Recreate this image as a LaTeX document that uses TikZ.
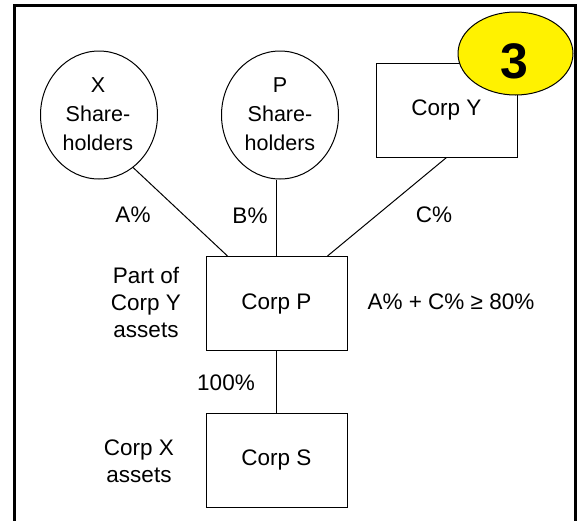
\documentclass[tikz,border=0pt]{standalone}
\usepackage{fontspec}
\setmainfont{Liberation Sans}
\usetikzlibrary{shapes.geometric,calc}
\begin{document}
\begin{tikzpicture}[x=1pt,y=-1pt,
  txt/.style={font=\fontsize{22.5}{27}\selectfont, align=center, inner sep=0pt},
  corp/.style={draw, line width=1pt, minimum width=141pt, minimum height=94pt, inner sep=0pt, font=\fontsize{22.5}{27}\selectfont},
  holder/.style={draw, ellipse, line width=1pt, minimum width=117pt, minimum height=128pt, inner sep=0pt},
  holdertxt/.style={font=\fontsize{21.5}{29}\selectfont, align=center, inner sep=0pt},
  link/.style={line width=1pt}]
\useasboundingbox (0,0) rectangle (586,520);
\draw[line width=3pt] (14,521) -- (14,5) -- (575,5) -- (575,521);
\node[holder] (X) at (99,115) {};
\node[holdertxt] (Xt) at (98,114) {X\\Share-\\holders};
\node[holder] (PS) at (280,115) {};
\node[holdertxt] (Pt) at (280,114) {P\\Share-\\holders};
\node[corp] (CY) at (446.5,110) {Corp Y};
\node[draw, ellipse, line width=1pt, fill=yellow, minimum width=115pt, minimum height=83pt, inner sep=0pt] (three) at (515.5,53.5) {};
\node[font=\fontsize{50}{50}\selectfont\bfseries, inner sep=0pt] (threet) at (514,61) {3};
\node[corp] (CP) at (276.5,303.5) {Corp P};
\node[corp] (CS) at (276.5,460) {Corp S};
\coordinate (pa) at ($(CP.north west)+(22,0)$);
\coordinate (pc) at ($(CP.north east)+(-20,0)$);
\draw[link] (X.-57) -- (pa);
\draw[link] (CP.north |- PS.south) -- (CP.north);
\draw[link] (CY.south) -- (pc);
\draw[link] (CP.south) -- (CS.north);
\node[txt] (la) at (133,215) {A\%};
\node[txt] (lb) at (250,216) {B\%};
\node[txt] (lc) at (434,215) {C\%};
\node[txt] (part) at (146,302) {Part of\\Corp Y\\assets};
\node[txt] (cond) at (451,302) {A\% + C\% ≥ 80\%};
\node[txt] (l100) at (226,383) {100\%};
\node[txt] (cx) at (139,461) {Corp X\\assets};
\end{tikzpicture}
\end{document}
